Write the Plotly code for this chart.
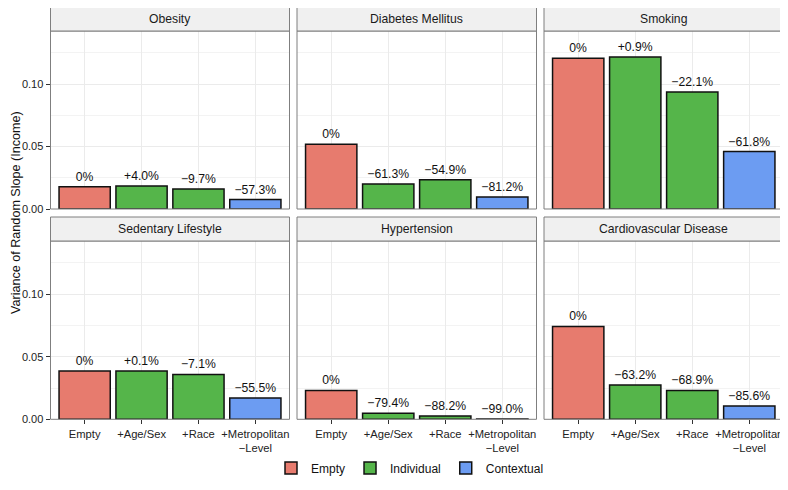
import plotly.graph_objects as go

# model steps and which group each belongs to
models = ["Empty", "+Age/Sex", "+Race", "+Metropolitan<br>\u2212Level"]
groups = ["Empty", "Individual", "Individual", "Contextual"]
group_names = ["Empty", "Individual", "Contextual"]
group_colors = {"Empty": "#E77B6E", "Individual": "#55B54A", "Contextual": "#6C9CF2"}

outcomes = ["Obesity", "Diabetes Mellitus", "Smoking",
            "Sedentary Lifestyle", "Hypertension", "Cardiovascular Disease"]

# variance of random slope (income)
obesity = [0.0178, 0.0185, 0.0161, 0.0076]
diabetes = [0.0518, 0.0200, 0.0234, 0.0097]
smoking = [0.1206, 0.1216, 0.0937, 0.0460]
sedentary = [0.0385, 0.0386, 0.0358, 0.0171]
hypertension = [0.0231, 0.0048, 0.0027, 0.0002]
cardio = [0.0742, 0.0273, 0.0231, 0.0107]

# percent change labels
obesity_lab = ["0%", "+4.0%", "\u22129.7%", "\u221257.3%"]
diabetes_lab = ["0%", "\u221261.3%", "\u221254.9%", "\u221281.2%"]
smoking_lab = ["0%", "+0.9%", "\u221222.1%", "\u221261.8%"]
sedentary_lab = ["0%", "+0.1%", "\u22127.1%", "\u221255.5%"]
hypertension_lab = ["0%", "\u221279.4%", "\u221288.2%", "\u221299.0%"]
cardio_lab = ["0%", "\u221263.2%", "\u221268.9%", "\u221285.6%"]

values = [obesity, diabetes, smoking, sedentary, hypertension, cardio]
labels = [obesity_lab, diabetes_lab, smoking_lab, sedentary_lab, hypertension_lab, cardio_lab]

# the page has an 8px body margin, so the figure is drawn 8px in from the window corner
OFF = 8
W, H = 788 - OFF, 490 - OFF
FONT = "Liberation Sans, Arial, Helvetica, sans-serif"
cols_px = [(50.5, 289.5), (297, 536.5), (544, 783.5)]
rows_px = [(31, 209), (241, 419.3)]   # plot area top/bottom in window px
strip_h = 24


def px(x):
    return (x - OFF) / W


def py(y):
    return 1 - (y - OFF) / H


fig = go.Figure()
shapes = []
annotations = []

for i, name in enumerate(outcomes):
    r, c = divmod(i, 3)
    n = i + 1
    xa = "x" if n == 1 else "x%d" % n
    ya = "y" if n == 1 else "y%d" % n
    for g in group_names:
        xs = [m for m, gg in zip(models, groups) if gg == g]
        ys = [v for v, gg in zip(values[i], groups) if gg == g]
        ts = [t for t, gg in zip(labels[i], groups) if gg == g]
        fig.add_trace(go.Bar(
            x=xs, y=ys, text=ts, textposition="outside", constraintext="none",
            cliponaxis=False,
            textfont=dict(size=12.2, color="#111", family=FONT),
            width=0.9, name=g, legendgroup=g, showlegend=(i == 0),
            marker=dict(color=group_colors[g], line=dict(color="#111", width=1.5)),
            xaxis=xa, yaxis=ya, hoverinfo="skip",
        ))
    x0, x1 = cols_px[c]
    top, bot = rows_px[r]
    fig.layout["xaxis" if n == 1 else "xaxis%d" % n] = dict(
        domain=[px(x0), px(x1)], anchor=ya, type="category", automargin=False,
        categoryorder="array", categoryarray=models, range=[-0.6, 3.6],
        showgrid=True, gridcolor="#EBEBEB", gridwidth=1, zeroline=False,
        showline=False, showticklabels=(r == 1),
        ticks="outside" if r == 1 else "", ticklen=4, tickcolor="#333",
        tickfont=dict(size=11.2, color="#222", family=FONT),
    )
    fig.layout["yaxis" if n == 1 else "yaxis%d" % n] = dict(
        domain=[py(bot), py(top)], anchor=xa, range=[0, 0.1424],
        automargin=False,
        tickvals=[0, 0.05, 0.10], ticktext=["0.00", "0.05", "0.10"],
        showticklabels=(c == 0), ticks="outside" if c == 0 else "",
        ticklen=4, tickcolor="#333",
        tickfont=dict(size=11, color="#222", family=FONT),
        showgrid=True, gridcolor="#EBEBEB", gridwidth=1, zeroline=False,
        minor=dict(dtick=0.025, tick0=0, showgrid=True, gridcolor="#F3F3F3", gridwidth=0.6),
        showline=False,
    )
    # panel border
    shapes.append(dict(type="rect", xref="paper", yref="paper",
                       x0=px(x0), x1=px(x1), y0=py(bot), y1=py(top),
                       line=dict(color="#7F7F7F", width=1), fillcolor="rgba(0,0,0,0)", layer="above"))
    # strip
    shapes.append(dict(type="rect", xref="paper", yref="paper",
                       x0=px(x0), x1=px(x1), y0=py(top), y1=py(top - strip_h),
                       line=dict(color="#7F7F7F", width=1), fillcolor="#F0F0F0", layer="above"))
    annotations.append(dict(text=name, xref="paper", yref="paper",
                            x=px((x0 + x1) / 2), y=py(top - strip_h / 2),
                            showarrow=False, xanchor="center", yanchor="middle",
                            font=dict(size=12.2, color="#1a1a1a", family=FONT)))

annotations.append(dict(text="Variance of Random Slope (Income)", xref="paper", yref="paper",
                        x=px(16), y=py(213), textangle=-90, showarrow=False,
                        xanchor="center", yanchor="middle",
                        font=dict(size=12.6, color="#111", family=FONT)))

fig.update_layout(
    width=W, height=H, margin=dict(l=0, r=0, t=0, b=0, autoexpand=False),
    paper_bgcolor="white", plot_bgcolor="white",
    barmode="overlay", shapes=shapes, annotations=annotations,
    font=dict(family=FONT, color="#111"),
    legend=dict(orientation="h", x=px(410), xanchor="center", y=py(468), yanchor="middle",
                font=dict(size=12, family=FONT), itemwidth=30, tracegroupgap=0),
)

fig.write_html("out.html")
